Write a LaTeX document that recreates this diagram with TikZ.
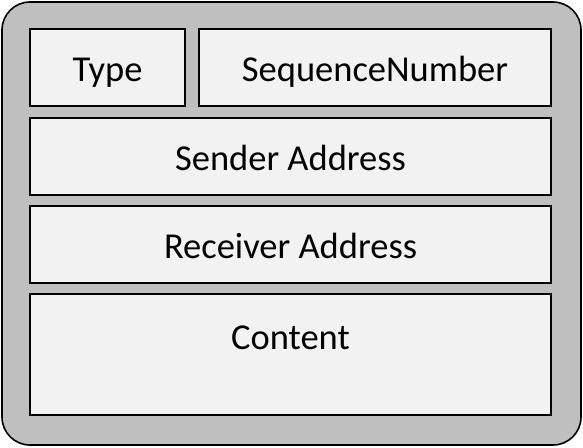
\documentclass[tikz,border=0pt]{standalone}
\usepackage{fontspec}
\setmainfont{Carlito}
\usepackage{xcolor}
\usepackage{tikz}
\usetikzlibrary{positioning}

\begin{document}
\begin{tikzpicture}[
    x=1pt, y=-1pt,
    font=\fontsize{36.5}{40}\selectfont,
    frame/.style={
        draw=black, line width=1.6pt, rounded corners=28pt, fill=black!25,
    },
    field/.style={
        draw=black, line width=1.6pt, fill=black!5,
        minimum height=77pt, inner sep=0pt, align=center,
        text height=28pt, text depth=0pt,
    },
]
\useasboundingbox (0,0) rectangle (583,447);

% --- outer packet frame ---
\draw[frame] (2,2) rectangle (581,445);

% --- header row ---
\node[field, minimum width=155pt] (type) at (107.5,67.5) {Type};
\node[field, minimum width=352pt] (seqnum) at (375,67.5) {SequenceNumber};

% --- addresses ---
\node[field, minimum width=521pt] (sender) at (290.5,156.5) {Sender Address};
\node[field, minimum width=521pt] (receiver) at (290.5,244.5) {Receiver Address};

% --- payload ---
\node[field, minimum width=521pt, minimum height=121pt] (content) at (290.5,354.5) {};
\node[inner sep=0pt, anchor=base] at (content.north) [yshift=-56pt] {Content};

\end{tikzpicture}
\end{document}
